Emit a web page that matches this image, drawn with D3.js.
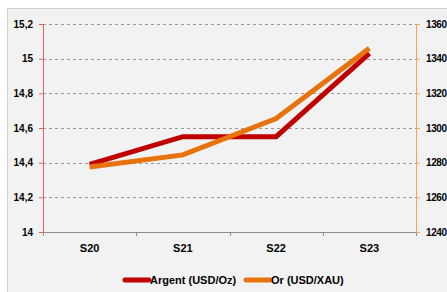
<!DOCTYPE html>
<html>
<head>
<meta charset="utf-8">
<script src="https://cdn.jsdelivr.net/npm/d3@7"></script>
<style>
  body { margin: 0; background: #fff; }
  svg { display: block; }
  text { font-family: "Liberation Sans", Arial, sans-serif; font-weight: bold; fill: #000; }
</style>
</head>
<body>
<div id="chart"></div>
<script>
const categories = ["S20", "S21", "S22", "S23"];
const argentValues = [14.39, 14.55, 14.55, 15.03];
const orValues = [1277.5, 1284.5, 1305.5, 1346];
const leftTicks = [14, 14.2, 14.4, 14.6, 14.8, 15, 15.2];
const rightTicks = [1240, 1260, 1280, 1300, 1320, 1340, 1360];
const seriesNames = ["Argent (USD/Oz)", "Or (USD/XAU)"];

function drawChart() {
    const W = 447, H = 292;
    const margin = {top: 24, right: 31, bottom: 60, left: 43};
    const width = W - margin.left - margin.right;
    const height = H - margin.top - margin.bottom;

    const svg = d3.select("#chart").append("svg")
        .attr("width", W)
        .attr("height", H);

    // chart area background
    svg.append("rect")
        .attr("x", 7.5).attr("y", 8.5)
        .attr("width", W + 10).attr("height", H + 10)
        .attr("fill", "#f2f2f2")
        .attr("stroke", "#d0d0d0");

    const g = svg.append("g")
        .attr("transform", `translate(${margin.left},${margin.top})`);

    const x = d3.scaleBand()
        .domain(categories)
        .range([0, width]);

    const yL = d3.scaleLinear().domain([14, 15.2]).range([height, 0]);
    const yR = d3.scaleLinear().domain([1240, 1360]).range([height, 0]);

    // gridlines
    g.append("g")
        .selectAll("line")
        .data(leftTicks.slice(1))
        .join("line")
        .attr("x1", 0).attr("x2", width)
        .attr("y1", d => Math.round(yL(d)) + 0.5)
        .attr("y2", d => Math.round(yL(d)) + 0.5)
        .attr("stroke", "#999")
        .attr("stroke-dasharray", "3,3");

    // bottom axis
    const xAxis = g.append("g")
        .attr("transform", `translate(0,${height})`)
        .call(d3.axisBottom(x).tickSize(0).tickPadding(12));
    xAxis.select(".domain").attr("stroke", "#8c8c8c");
    xAxis.selectAll("text").style("font-size", "11px");
    xAxis.selectAll(".sep")
        .data(d3.range(categories.length + 1))
        .join("line")
        .attr("class", "sep")
        .attr("x1", i => Math.round(i * x.bandwidth()) + 0.5)
        .attr("x2", i => Math.round(i * x.bandwidth()) + 0.5)
        .attr("y1", 0).attr("y2", 4)
        .attr("stroke", "#8c8c8c");

    // left axis
    const leftAxis = g.append("g")
        .call(d3.axisLeft(yL).tickValues(leftTicks).tickSize(4).tickPadding(6)
            .tickFormat(d => String(d).replace(".", ",")));
    leftAxis.select(".domain").attr("stroke", "#e06666").attr("d", `M0.5,0V${height}`);
    leftAxis.selectAll(".tick line").attr("stroke", "#e06666");
    leftAxis.selectAll("text").style("font-size", "10px");

    // right axis
    const rightAxis = g.append("g")
        .attr("transform", `translate(${width},0)`)
        .call(d3.axisRight(yR).tickValues(rightTicks).tickSize(4).tickPadding(6)
            .tickFormat(d3.format("d")));
    rightAxis.select(".domain").attr("stroke", "#f7a552").attr("d", `M0.5,0V${height}`);
    rightAxis.selectAll(".tick line").attr("stroke", "#f7a552");
    rightAxis.selectAll("text").style("font-size", "10px").style("letter-spacing", "-0.4px");

    const cx = d => x(d) + x.bandwidth() / 2;

    const lineL = d3.line()
        .x((d, i) => cx(categories[i]))
        .y(d => yL(d));
    const lineR = d3.line()
        .x((d, i) => cx(categories[i]))
        .y(d => yR(d));

    g.append("path")
        .datum(argentValues)
        .attr("d", lineL)
        .attr("fill", "none")
        .attr("stroke", "#c00000")
        .attr("stroke-width", 5);

    g.append("path")
        .datum(orValues)
        .attr("d", lineR)
        .attr("fill", "none")
        .attr("stroke", "#e8730c")
        .attr("stroke-width", 5);

    // legend
    const legend = svg.append("g");
    const legendItems = [
        {name: seriesNames[0], color: "#c00000", x: 125},
        {name: seriesNames[1], color: "#e8730c", x: 246}
    ];
    legendItems.forEach(item => {
        legend.append("line")
            .attr("x1", item.x).attr("x2", item.x + 24)
            .attr("y1", 280).attr("y2", 280)
            .attr("stroke", item.color)
            .attr("stroke-width", 5)
            .attr("stroke-linecap", "round");
        legend.append("text")
            .attr("x", item.x + 25)
            .attr("y", 284)
            .style("font-size", "11px")
            .text(item.name);
    });
}

document.addEventListener('DOMContentLoaded', drawChart);
</script>
</body>
</html>
